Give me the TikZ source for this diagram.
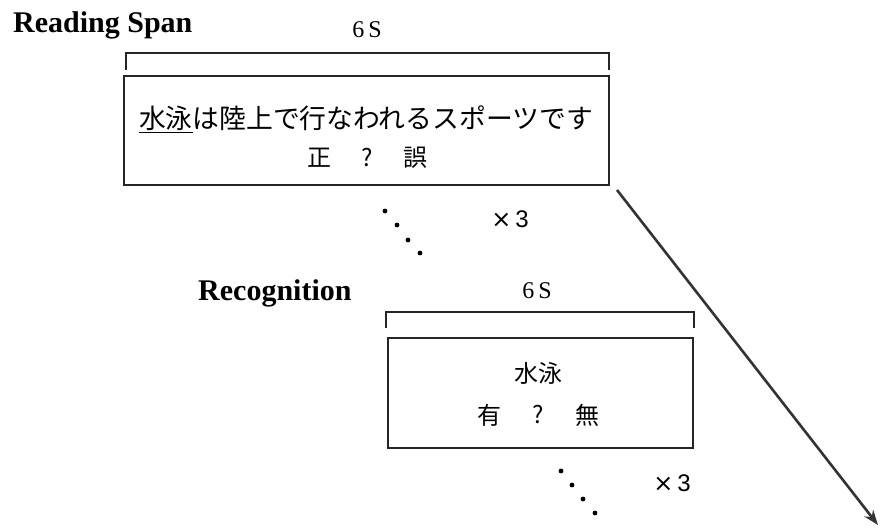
\documentclass[tikz,border=0pt]{standalone}
\usepackage{fontspec}
\setmainfont{Liberation Serif}
\newfontfamily\jp{Noto Sans CJK JP}
\newfontfamily\sansfam{Liberation Sans}
\newfontfamily\symfam{DejaVu Sans}
\usetikzlibrary{arrows.meta}
\begin{document}
\begin{tikzpicture}[x=1pt,y=-1pt,
  frame/.style={draw=black!85,line width=2.4pt,inner sep=0},
  bracketline/.style={draw=black!85,line width=2.4pt},
  title/.style={font=\fontsize{30}{34}\selectfont\bfseries, anchor=base west, inner sep=0},
  dur/.style={font=\fontsize{24}{28}\selectfont, anchor=base, inner sep=0},
  jtext/.style={font=\jp\fontsize{26.8}{30}\selectfont, inner sep=0},
  jsmall/.style={font=\jp\fontsize{24}{28}\selectfont, inner sep=0},
  rep/.style={font=\sansfam\fontsize{24}{28}\selectfont, inner sep=0},
  dotmark/.style={circle, fill=black, inner sep=0, minimum size=4.8pt},
  arrowline/.style={draw=black!80, line width=2.6pt, -{Stealth[length=15pt,width=11pt,fill=gray!80]}},
]
\useasboundingbox (0,0) rectangle (881,528);

% Reading span part
\node[title] (rs) at (13,32) {Reading Span};
\node[dur] (d1) at (367,37) {6\,S};
\draw[bracketline] (126,70) -- (126,53) -- (609,53) -- (609,70);
\node[frame, minimum width=485pt, minimum height=109pt] (box1) at (366.5,130.5) {};
\node[jtext] (sent) at (366,119) {\underline{水泳}は陸上で行なわれるスポーツです};
\node[jsmall] (t1) at (319,158) {正};
\node[jsmall] (t2) at (367,158) {?};
\node[jsmall] (t3) at (415,158) {誤};

\node[dotmark] (a1) at (385,211) {};
\node[dotmark] (a2) at (397,225) {};
\node[dotmark] (a3) at (408,240) {};
\node[dotmark] (a4) at (420,253) {};
\node[rep] (x1) at (510,219) {{\symfam ×}\,3};

% Recognition part
\node[title] (rc) at (198,300) {Recognition};
\node[dur] (d2) at (537,298) {6\,S};
\draw[bracketline] (386,328) -- (386,312) -- (694,312) -- (694,328);
\node[frame, minimum width=305pt, minimum height=110pt] (box2) at (540.5,393) {};
\node[jsmall] (w) at (538,373) {水泳};
\node[jsmall] (r1) at (489,415) {有};
\node[jsmall] (r2) at (538,415) {?};
\node[jsmall] (r3) at (587,415) {無};

\node[dotmark] (b1) at (561,471) {};
\node[dotmark] (b2) at (572,485) {};
\node[dotmark] (b3) at (583,499) {};
\node[dotmark] (b4) at (595,513) {};
\node[rep] (x2) at (672,483) {{\symfam ×}\,3};

% arrow
\coordinate (astart) at (617,190);
\coordinate (aend) at (878,525);
\draw[arrowline] (astart) -- (aend);
\end{tikzpicture}
\end{document}
